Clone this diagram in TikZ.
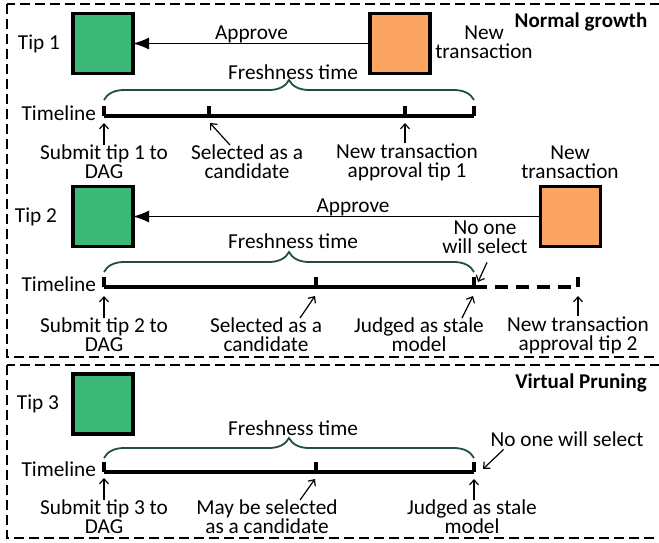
\documentclass[tikz,border=0pt]{standalone}
\usepackage{fontspec}
\setmainfont{Carlito}
\usetikzlibrary{arrows.meta,decorations.pathreplacing}

\definecolor{tipgreen}{RGB}{60,184,120}
\definecolor{txorange}{RGB}{252,164,99}
\definecolor{braceteal}{RGB}{30,77,74}

\begin{document}
\begin{tikzpicture}[x=1pt, y=-1pt, every node/.style =
     {font=\fontsize{21.3pt}{19pt}\selectfont, align=center,
     inner sep=0pt, outer sep=0pt},
     tipbox/.style = {draw=black, line width=3.5pt,
     minimum size=60pt, fill=tipgreen},
     txbox/.style = {tipbox, fill=txorange},
     approve/.style = {-{Latex[length=16pt,width=12pt]}, line width=1.3pt},
     fresh/.style = {draw=braceteal, line width=1.8pt, decorate,
     decoration={brace, amplitude=20pt}},
     tline/.style = {line width=3.5pt},
     ptr/.style = {-{Straight Barb[length=5pt,width=9pt]}, line width=1.2pt},
     groupbox/.style = {dash pattern=on 10pt off 5pt, line width=1.3pt},
     title/.style = {font=\fontsize{21pt}{19pt}\selectfont\bfseries}]
        \useasboundingbox (0,0) rectangle (659,542);
        % group frames
        \draw [groupbox] (7,4) rectangle (663,357);
        \draw [groupbox] (7,365) rectangle (663,538);
        \node [title] at (581,22) (normal) {Normal growth};
        \node [title] at (581,383) (virtual) {Virtual Pruning};

        % ---- tip 1
        \node [tipbox] at (103,43.5) (sqA) {};
        \node [txbox] at (400,43.5) (txA) {};
        \node [anchor=east, xshift=-13pt] at (sqA.west) (tipAlbl) {Tip 1};
        \node at (484,42) (newtxA) {New\\transaction};
        \draw [approve] (txA.west) -- (sqA.east)
            node [pos=0.5, above=1pt] (apprA) {Approve};
        \coordinate (tA0) at (104,116);
        \coordinate (tA1) at (209,116);
        \coordinate (tA2) at (405,116);
        \coordinate (tA3) at (474,116);
        \draw [fresh] ([yshift=16pt]tA0) -- ([yshift=16pt]tA3);
        \node at (293,72) (frA) {Freshness time};
        \draw [tline] (tA0) -- (tA3);
        \foreach \t in {tA0,tA1,tA2,tA3}
            \draw [tline] (\t) -- ++(0,-10);
        \node [anchor=east, xshift=-8pt, yshift=3pt] at (tA0) (tlA) {Timeline};
        \node at (104,162) (subA) {Submit tip 1 to\\DAG};
        \node at (247,162) (selA) {Selected as a\\candidate};
        \node at (407,162) (newA) {New transaction\\approval tip 1};
        \draw [ptr] (subA.north) -- ([yshift=-7pt]tA0);
        \draw [ptr] ([xshift=-17pt]selA.north) -- ([xshift=1pt,yshift=-7pt]tA1);
        \draw [ptr] (newA.north -| tA2) -- ([yshift=-7pt]tA2);

        % ---- tip 2
        \node [tipbox] at (103,216.5) (sqB) {};
        \node [txbox] at (570.5,216.5) (txB) {};
        \node [anchor=east, xshift=-16pt] at (sqB.west) (tipBlbl) {Tip 2};
        \node at (570,162) (newtxB) {New\\transaction};
        \draw [approve] (txB.west) -- (sqB.east)
            node [pos=0.46, above=1pt] (apprB) {Approve};
        \coordinate (tB0) at (104,287);
        \coordinate (tB1) at (316,287);
        \coordinate (tB2) at (474,287);
        \coordinate (tB3) at (578,287);
        \draw [fresh] ([yshift=15pt]tB0) -- ([yshift=15pt]tB2);
        \node at (293,241) (frB) {Freshness time};
        \draw [tline] (tB0) -- (tB2);
        \draw [tline, dash pattern=on 13pt off 8pt] (tB2) -- (tB3);
        \foreach \t in {tB0,tB1,tB2,tB3}
            \draw [tline] (\t) -- ++(0,-10);
        \node [anchor=east, xshift=-8pt, yshift=3pt] at (tB0) (tlB) {Timeline};
        \node at (485,237) (noneB) {No one\\will select};
        \draw [ptr] ([xshift=2pt,yshift=-9pt]noneB.south) -- ([xshift=4pt,yshift=5pt]tB2);
        \node at (104,335) (subB) {Submit tip 2 to\\DAG};
        \node at (266,335) (selB) {Selected as a\\candidate};
        \node at (419,335) (judB) {Judged as stale\\model};
        \node at (578,335) (newB) {New transaction\\approval tip 2};
        \draw [ptr] (subB.north) -- ([yshift=-9pt]tB0);
        \draw [ptr] ([xshift=34pt]selB.north) -- ([xshift=-1pt,yshift=-9pt]tB1);
        \draw [ptr] ([xshift=43pt]judB.north) -- ([xshift=-1pt,yshift=-9pt]tB2);
        \draw [ptr] (newB.north -| tB3) -- ([yshift=-9pt]tB3);

        % ---- tip 3
        \node [tipbox] at (103,404) (sqC) {};
        \node [anchor=east, xshift=-14pt] at (sqC.west) (tipClbl) {Tip 3};
        \coordinate (tC0) at (104,472);
        \coordinate (tC1) at (316,472);
        \coordinate (tC2) at (474,472);
        \draw [fresh] ([yshift=14pt]tC0) -- ([yshift=14pt]tC2);
        \node at (293,428) (frC) {Freshness time};
        \draw [tline] (tC0) -- (tC2);
        \foreach \t in {tC0,tC1,tC2}
            \draw [tline] (\t) -- ++(0,-10);
        \node [anchor=east, xshift=-8pt, yshift=3pt] at (tC0) (tlC) {Timeline};
        \node at (567,439) (noneC) {No one will select};
        \draw [ptr] ([xshift=13pt,yshift=-3pt]noneC.south west) -- ([xshift=9pt,yshift=3pt]tC2);
        \node at (104,517) (subC) {Submit tip 3 to\\DAG};
        \node at (267,517) (mayC) {May be selected\\as a candidate};
        \node at (472,517) (judC) {Judged as stale\\model};
        \draw [ptr] (subC.north) -- ([yshift=-6pt]tC0);
        \draw [ptr] ([xshift=33pt]mayC.north) -- ([xshift=-1pt,yshift=-7pt]tC1);
        \draw [ptr] (judC.north -| tC2) -- ([yshift=-7pt]tC2);
\end{tikzpicture}
\end{document}
